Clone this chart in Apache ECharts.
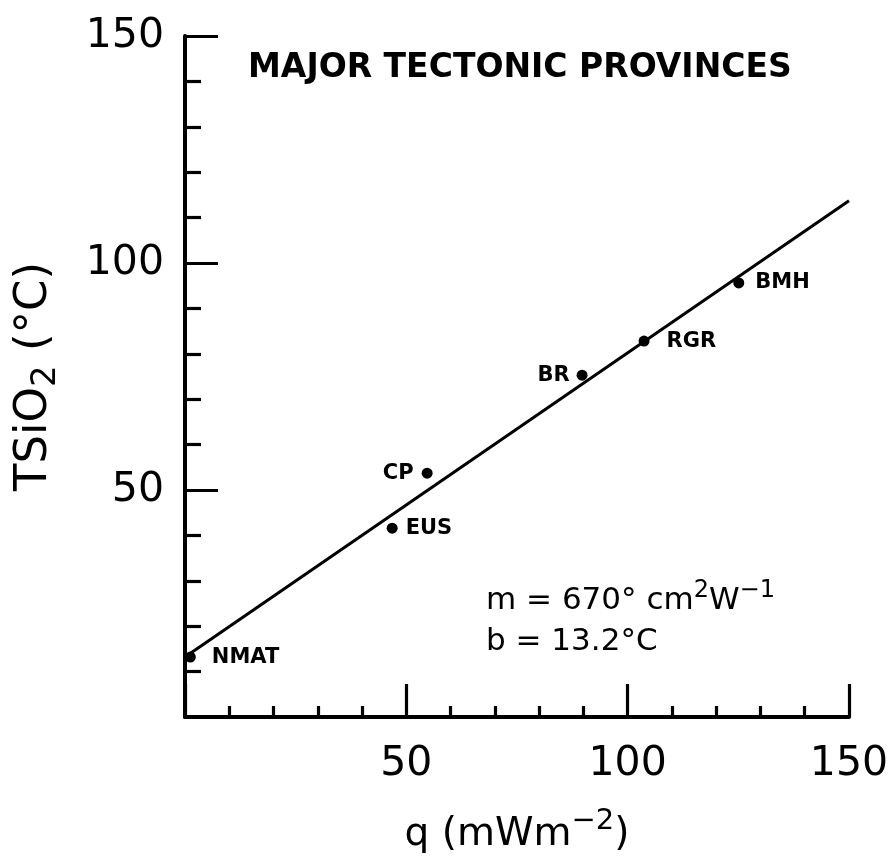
<!DOCTYPE html>
<html><head><meta charset="utf-8">
<script src="https://cdn.jsdelivr.net/npm/echarts@6/dist/echarts.min.js"></script>
<style>html,body{margin:0;padding:0;background:#fff}#c{width:892px;height:860px}</style>
</head><body><div id="c"></div>
<script>
// ---- data ----
const provinces = ['NMAT', 'EUS', 'CP', 'BR', 'RGR', 'BMH'];
const heatFlow  = [1.2, 46.8, 54.7, 89.7, 103.7, 125.1];   // q (mW m^-2)
const tempSiO2  = [13.2, 41.6, 53.7, 75.3, 82.8, 95.6];    // TSiO2 (°C)
const labelSide = ['right', 'right', 'left', 'left', 'right', 'right'];
const fitQ = [0, 150];
const fitT = [13.2, 113.7];
const xTickLabels = ['50', '100', '150'];
const yTickLabels = ['50', '100', '150'];

const FONT = '"DejaVu Sans", "Liberation Sans", sans-serif';
const INK = '#000';

const chart = echarts.init(document.getElementById('c'), null, {renderer: 'canvas'});

const labelGap = {NMAT: 16, EUS: 8, CP: 8, BR: 7, RGR: 17, BMH: 11};
const points = provinces.map((p, i) => ({
  value: [heatFlow[i], tempSiO2[i]],
  name: p,
  label: {position: labelSide[i], distance: labelGap[p]}
}));

const option = {
  backgroundColor: '#fff',
  animation: false,
  grid: {left: 185, right: 43, top: 36, bottom: 143, containLabel: false, outerBoundsMode: 'none'},
  xAxis: {
    type: 'value', min: 0, max: 150, interval: 50,
    axisLine: {show: true, onZero: false, lineStyle: {color: INK, width: 4}},
    axisTick: {show: true, inside: true, length: 33, lineStyle: {color: INK, width: 3.2}},
    minorTick: {show: true, splitNumber: 5, length: 11, lineStyle: {color: INK, width: 3.2}},
    splitLine: {show: false},
    axisLabel: {
      margin: 27, color: INK, fontFamily: FONT, fontSize: 41,
      formatter: v => xTickLabels.includes(String(v)) ? String(v) : ''
    },
    name: 'q (mWm{sup|−2})',
    nameLocation: 'middle', nameGap: 90,
    nameTextStyle: {
      color: INK, fontFamily: FONT, fontSize: 39,
      rich: {sup: {fontSize: 29, fontFamily: FONT, color: INK, padding: [0, 0, 26, 0]}}
    }
  },
  yAxis: {
    type: 'value', min: 0, max: 150, interval: 50,
    axisLine: {show: true, onZero: false, lineStyle: {color: INK, width: 4}},
    axisTick: {show: true, inside: true, length: 33, lineStyle: {color: INK, width: 3.2}},
    minorTick: {show: true, splitNumber: 5, length: 16, lineStyle: {color: INK, width: 3.2}},
    splitLine: {show: false},
    axisLabel: {
      margin: 21, color: INK, fontFamily: FONT, fontSize: 41,
      formatter: v => yTickLabels.includes(String(v)) ? String(v) : ''
    },
    name: 'TSiO{sub|2} (°C)',
    nameLocation: 'middle', nameGap: 122, nameRotate: 90,
    nameTextStyle: {
      color: INK, fontFamily: FONT, fontSize: 45,
      rich: {sub: {fontSize: 34, fontFamily: FONT, color: INK, padding: [24, 0, 0, 0]}}
    }
  },
  series: [
    {
      type: 'line',
      data: fitQ.map((q, i) => [q, fitT[i]]),
      showSymbol: false, symbol: 'none',
      lineStyle: {color: INK, width: 3},
      silent: true, z: 2
    },
    {
      type: 'scatter',
      data: points,
      symbol: 'circle', symbolSize: 11,
      itemStyle: {color: INK, opacity: 1},
      label: {
        show: true, formatter: p => p.name,
        color: INK, fontFamily: FONT, fontSize: 21, fontWeight: 'bold',
        textBorderWidth: 0, opacity: 1
      },
      z: 3
    }
  ],
  graphic: [
    {
      type: 'text', left: 248, top: 52,
      style: {text: 'MAJOR TECTONIC PROVINCES', fill: INK, font: 'bold 33px ' + FONT}
    },
    {
      type: 'text', left: 486, top: 579,
      style: {
        text: 'm = 670° cm{sup|2}W{sup|−1}', fill: INK, font: '31px ' + FONT,
        rich: {sup: {fontSize: 24, fontFamily: FONT, fill: INK, padding: [0, 0, 20, 0]}}
      }
    },
    {
      type: 'text', left: 486, top: 626,
      style: {text: 'b = 13.2°C', fill: INK, font: '31px ' + FONT}
    }
  ]
};
chart.setOption(option);
</script>
</body></html>
